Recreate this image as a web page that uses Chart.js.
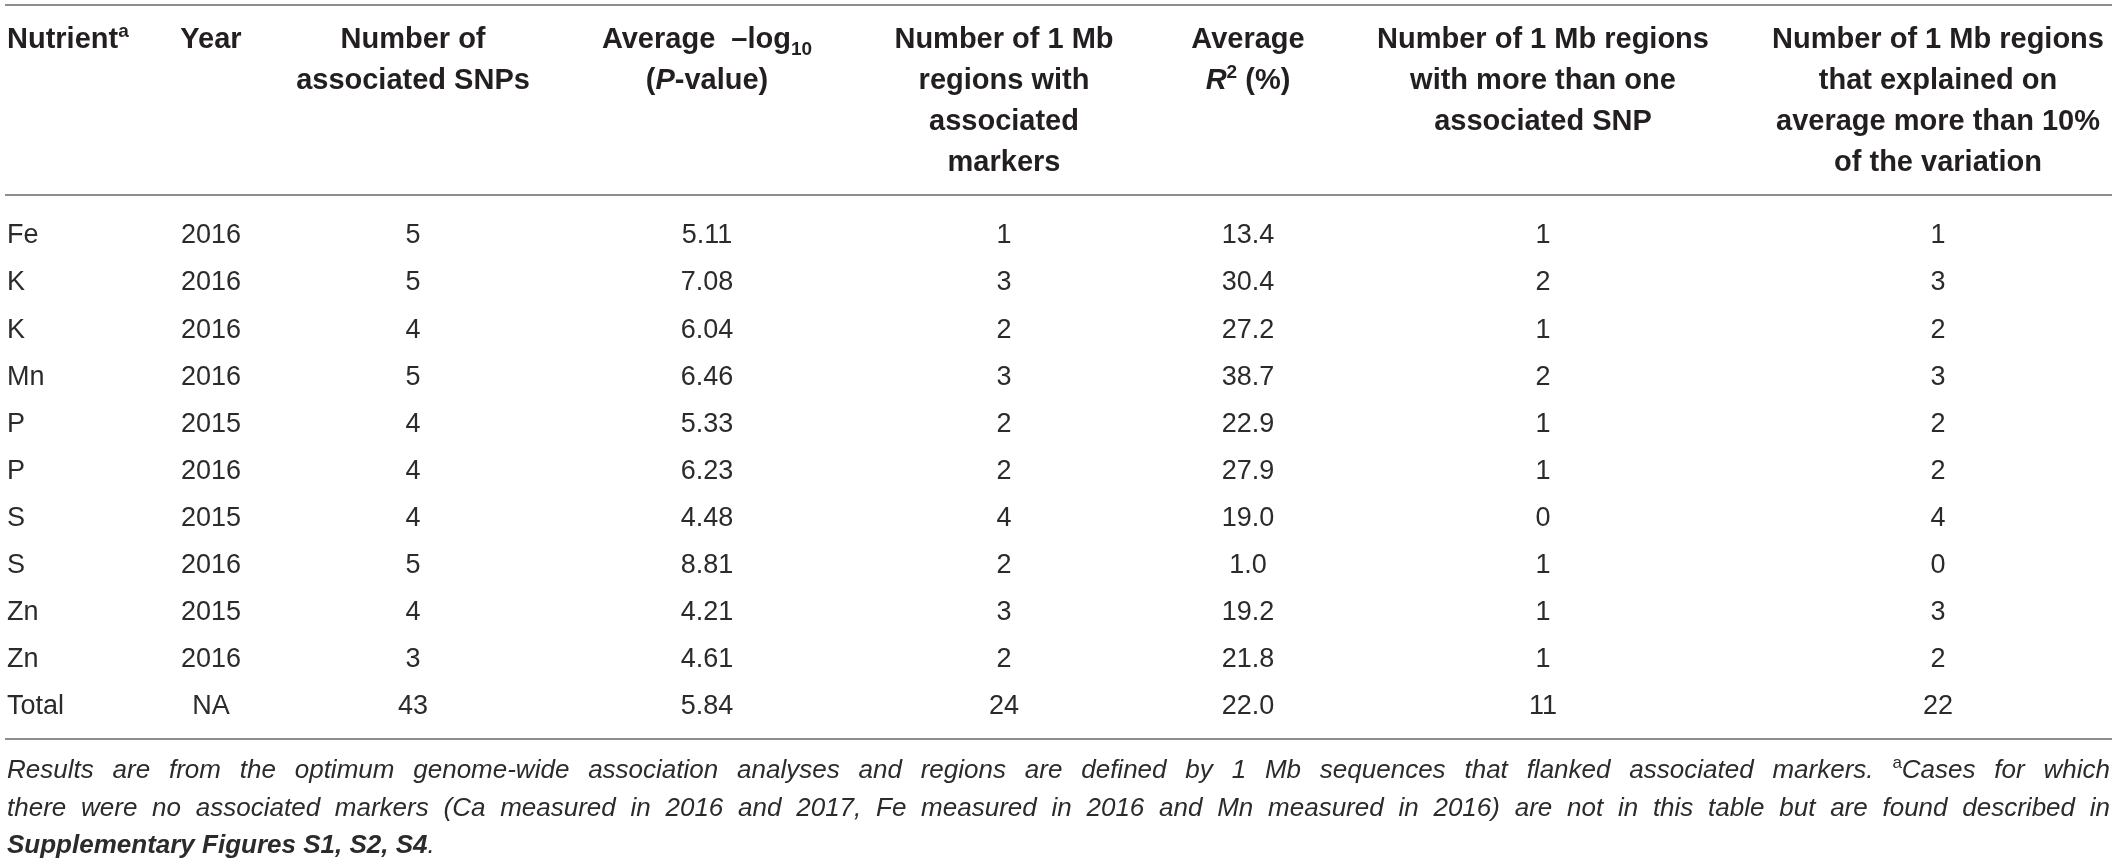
<!DOCTYPE html>
<html>
<head>
<meta charset="utf-8">
<script src="https://cdn.jsdelivr.net/npm/chart.js@4.4.1/dist/chart.umd.min.js"></script>
<style>
  html, body { margin: 0; padding: 0; background: #fff; }
  #wrap { width: 2118px; height: 864px; position: relative; }
</style>
</head>
<body>
<div id="wrap"><canvas id="snpTable"></canvas></div>
<script>
// table values, one list per column
var nutrients = ['Fe', 'K', 'K', 'Mn', 'P', 'P', 'S', 'S', 'Zn', 'Zn', 'Total'];
var years = ['2016', '2016', '2016', '2016', '2015', '2016', '2015', '2016', '2015', '2016', 'NA'];
var snpCounts = [5, 5, 4, 5, 4, 4, 4, 5, 4, 3, 43];
var avgLogP = [5.11, 7.08, 6.04, 6.46, 5.33, 6.23, 4.48, 8.81, 4.21, 4.61, 5.84];
var regionCounts = [1, 3, 2, 3, 2, 2, 4, 2, 3, 2, 24];
var avgR2 = [13.4, 30.4, 27.2, 38.7, 22.9, 27.9, 19.0, 1.0, 19.2, 21.8, 22.0];
var multiSnpRegions = [1, 2, 1, 2, 1, 1, 0, 1, 1, 1, 11];
var bigEffectRegions = [1, 3, 2, 3, 2, 2, 4, 0, 3, 2, 22];

// column headers (segments: sup / sub / i flags)
var headers = [
    [[{t: 'Nutrient'}, {t: 'a', sup: true}]],
    [[{t: 'Year'}]],
    [[{t: 'Number of'}], [{t: 'associated SNPs'}]],
    [[{t: 'Average  \u2013log'}, {t: '10', sub: true}], [{t: '('}, {t: 'P', i: true}, {t: '-value)'}]],
    [[{t: 'Number of 1 Mb'}], [{t: 'regions with'}], [{t: 'associated'}], [{t: 'markers'}]],
    [[{t: 'Average'}], [{t: 'R', i: true}, {t: '2', sup: true}, {t: ' (%)'}]],
    [[{t: 'Number of 1 Mb regions'}], [{t: 'with more than one'}], [{t: 'associated SNP'}]],
    [[{t: 'Number of 1 Mb regions'}], [{t: 'that explained on'}], [{t: 'average more than 10%'}], [{t: 'of the variation'}]]
];

var footLines = [
    {justify: true, segs: [
        {t: 'Results are from the optimum genome-wide association analyses and regions are defined by 1 Mb sequences that flanked associated markers. ', i: true},
        {t: 'a', sup: true},
        {t: 'Cases for which', i: true}]},
    {justify: true, segs: [
        {t: 'there were no associated markers (Ca measured in 2016 and 2017, Fe measured in 2016 and Mn measured in 2016) are not in this table but are found described in', i: true}]},
    {justify: false, segs: [
        {t: 'Supplementary Figures S1, S2, S4', i: true, b: true},
        {t: '.', i: true}]}
];

// layout
var colX = [7, 211, 413, 707, 1004, 1248, 1543, 1938];
var colAlign = ['left', 'center', 'center', 'center', 'center', 'center', 'center', 'center'];
var headBase = [48, 89, 130, 171];
var footBase = [778, 816, 853];
var ruleY = [5, 195, 739];
var FONT = '"Liberation Sans", Arial, Helvetica, sans-serif';

function segFont(s, size, boldDefault){
    var small = s.sup || s.sub;
    var sz = small ? Math.round(size * 0.66) : size;
    var bold = (s.b || boldDefault) ? 'bold ' : '';
    var it = s.i ? 'italic ' : '';
    return it + bold + sz + 'px ' + FONT;
}

function runWidth(ctx, segs, size, boldDefault){
    var w = 0;
    segs.forEach(function(s){
        ctx.font = segFont(s, size, boldDefault);
        w += ctx.measureText(s.t).width;
    });
    return w;
}

function drawRun(ctx, segs, x, y, size, boldDefault){
    segs.forEach(function(s){
        ctx.font = segFont(s, size, boldDefault);
        var dy = s.sup ? -size * 0.38 : (s.sub ? size * 0.24 : 0);
        ctx.fillText(s.t, x, y + dy);
        x += ctx.measureText(s.t).width;
    });
}

function toWords(segs){
    var words = [[]];
    segs.forEach(function(s){
        s.t.split(' ').forEach(function(p, k){
            if (k > 0) words.push([]);
            if (p) words[words.length - 1].push(Object.assign({}, s, {t: p}));
        });
    });
    return words.filter(function(w){ return w.length; });
}

var tablePlugin = {
    id: 'tableText',
    afterDatasetsDraw: function(chart){
        var ctx = chart.ctx;
        ctx.save();
        ctx.textBaseline = 'alphabetic';
        ctx.textAlign = 'left';

        // rules
        ctx.strokeStyle = '#8e8e8e';
        ctx.lineWidth = 2;
        ruleY.forEach(function(y){
            ctx.beginPath();
            ctx.moveTo(5, y);
            ctx.lineTo(2112, y);
            ctx.stroke();
        });

        // header
        ctx.fillStyle = '#231f20';
        headers.forEach(function(lines, j){
            var cx = chart.scales.x.getPixelForValue(colX[j]);
            lines.forEach(function(segs, k){
                var w = runWidth(ctx, segs, 29, true);
                var x = colAlign[j] === 'left' ? cx : cx - w / 2;
                drawRun(ctx, segs, x, headBase[k], 29, true);
            });
        });

        // cells
        ctx.fillStyle = '#2b2b2b';
        ctx.font = '27px ' + FONT;
        chart.data.datasets.forEach(function(ds, j){
            var meta = chart.getDatasetMeta(j);
            meta.data.forEach(function(el, i){
                ctx.textAlign = colAlign[j];
                ctx.fillText(ds.data[i].text, el.x, el.y + 9.8);
            });
        });
        ctx.textAlign = 'left';

        // footnote
        ctx.fillStyle = '#2b2b2b';
        footLines.forEach(function(line, k){
            if (!line.justify){
                drawRun(ctx, line.segs, 7, footBase[k], 26, false);
                return;
            }
            var words = toWords(line.segs);
            var widths = words.map(function(w){ return runWidth(ctx, w, 26, false); });
            var total = widths.reduce(function(a, b){ return a + b; }, 0);
            var gap = (2110 - 7 - total) / (words.length - 1);
            var x = 7;
            words.forEach(function(w, n){
                drawRun(ctx, w, x, footBase[k], 26, false);
                x += widths[n] + gap;
            });
        });
        ctx.restore();
    }
};

var columns = [
    nutrients,
    years,
    snpCounts.map(String),
    avgLogP.map(function(v){ return v.toFixed(2); }),
    regionCounts.map(String),
    avgR2.map(function(v){ return v.toFixed(1); }),
    multiSnpRegions.map(String),
    bigEffectRegions.map(String)
];

var datasets = columns.map(function(vals, j){
    return {
        data: vals.map(function(v, i){ return {x: colX[j], y: i, text: v}; }),
        pointRadius: 0,
        pointHoverRadius: 0
    };
});

new Chart(document.getElementById('snpTable'), {
    type: 'scatter',
    data: {datasets: datasets},
    options: {
        responsive: true,
        maintainAspectRatio: false,
        animation: false,
        events: [],
        layout: {padding: {top: 210, bottom: 136, left: 0, right: 0}},
        scales: {
            x: {type: 'linear', min: 0, max: 2118, display: false},
            y: {type: 'linear', min: -0.5, max: 10.5, reverse: true, display: false}
        },
        plugins: {
            legend: {display: false},
            tooltip: {enabled: false}
        }
    },
    plugins: [tablePlugin]
});
</script>
</body>
</html>
